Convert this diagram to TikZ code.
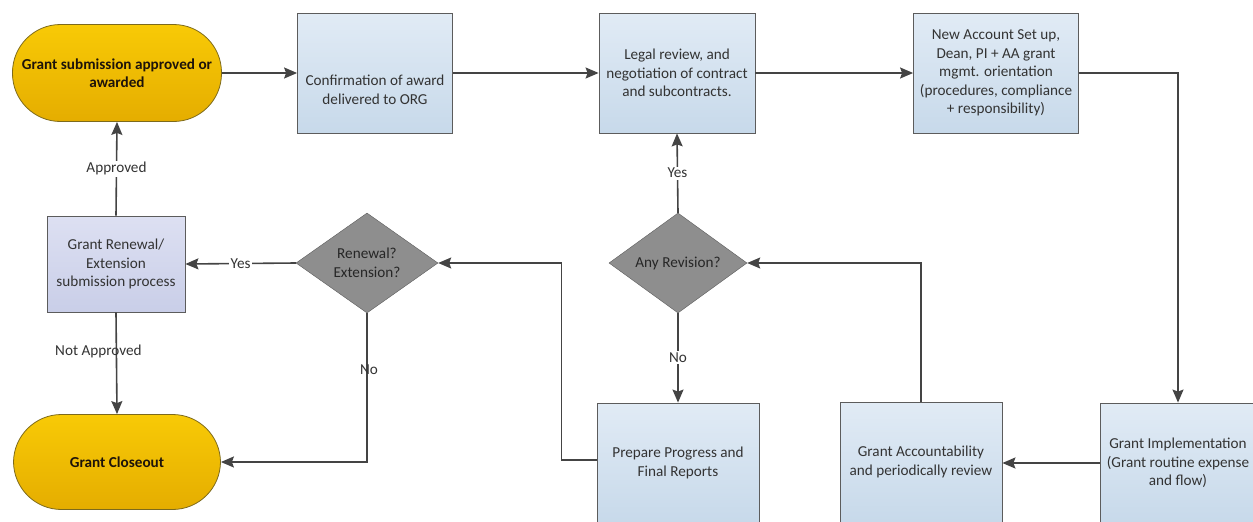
\documentclass[tikz,border=0pt]{standalone}
\usepackage{fontspec}
\setmainfont{Carlito}
\usetikzlibrary{arrows.meta, shapes.geometric}
\definecolor{txtgray}{HTML}{333333}
\definecolor{linegray}{HTML}{444444}
\definecolor{boxline}{HTML}{5C5C5C}
\definecolor{boxtop}{HTML}{E1EBF5}
\definecolor{boxbot}{HTML}{C7D9EA}
\definecolor{renewtop}{HTML}{DDE0F2}
\definecolor{renewbot}{HTML}{C9CEE8}
\definecolor{termtop}{HTML}{F8CA06}
\definecolor{termbot}{HTML}{E5AD00}
\definecolor{termline}{HTML}{7D6A1C}
\definecolor{decfill}{HTML}{8E8E8E}

\begin{document}
\begin{tikzpicture}[
                x=1pt, y=-1pt,
                font=\fontsize{15.2}{18.5}\selectfont,
                terminal/.style = {rectangle, rounded corners=48pt, draw=termline, thick,
                  top color=termtop, bottom color=termbot, minimum width=209pt,
                  minimum height=97pt, align=center, text=black!85!brown},
                process/.style = {rectangle, draw=boxline, thick, top color=boxtop,
                  bottom color=boxbot, minimum width=155pt, minimum height=120pt,
                  align=center, inner sep=2pt, text=txtgray},
                decision/.style = {diamond, draw=boxline, fill=decfill, aspect=1.4,
                  inner sep=0pt, minimum width=142pt, minimum height=100pt,
                  align=center, text=black!85},
                arrow/.style = {draw=linegray, line width=1.6pt,
                  -{Stealth[length=13pt, width=11pt, inset=2pt]}},
                tag/.style = {fill=white, inner sep=1.5pt, text=txtgray},
                plaintag/.style = {inner sep=1pt, text=txtgray}
              ]
              \useasboundingbox (0,0) rectangle (1253,522);
              % Top row
              \node[terminal] (awarded) at (117,73) {\textbf{Grant submission approved or}\\\textbf{awarded}};
              \node[process, label={[yshift=-17pt, align=center, text=txtgray]center:Confirmation of award\\delivered to ORG}] (confirm) at (375,73) {};
              \node[process, minimum width=156pt] (legal) at (677,73) {Legal review, and\\negotiation of contract\\and subcontracts.};
              \node[process, minimum width=165pt] (setup) at (996,73) {New Account Set up,\\Dean, PI + AA grant\\mgmt. orientation\\(procedures, compliance\\+ responsibility)};
              % Decisions
              \node[decision] (renew) at (367,263) {Renewal?\\Extension?};
              \node[decision, minimum width=138pt] (revision) at (678,263) {Any Revision?};
              \node[process, top color=renewtop, bottom color=renewbot, minimum width=138pt,
                minimum height=96pt] (renewal) at (116,264) {Grant Renewal/\\Extension\\submission process};
              % Bottom row
              \node[terminal, minimum width=207pt, minimum height=95pt] (closeout) at (117,462) {\textbf{Grant Closeout}};
              \node[process, minimum width=162pt] (reports) at (678,463) {Prepare Progress and\\Final Reports};
              \node[process, minimum width=162pt] (account) at (921,462) {Grant Accountability\\and periodically review};
              \node[process] (implement) at (1178,463) {Grant Implementation\\(Grant routine expense\\and flow)};
              % Connectors
              \draw[arrow] (awarded.east) -- (confirm.west);
              \draw[arrow] (confirm.east) -- (legal.west);
              \draw[arrow] (legal.east) -- (setup.west);
              \draw[arrow] (setup.east) -| (implement.north);
              \draw[arrow] (implement.west) -- (implement.west -| account.east);
              \draw[arrow] (account.north) |- (revision.east);
              \draw[arrow] (revision.north) -- node[tag] {Yes} (legal.south);
              \draw[arrow] (revision.south) -- node[tag] {No} (reports.north);
              \draw[arrow] ([yshift=3pt]reports.west) -- ++(-35,0) |- (renew.east);
              \draw[arrow] (renew.west) -- node[tag] {Yes} (renewal.east);
              \draw[arrow] (renewal.north) -- node[tag] {Approved} (awarded.south);
              \draw[arrow] (renewal.south) -- node[plaintag, pos=0.38, xshift=-18pt] {Not Approved} (closeout.north);
              \draw[arrow] (renew.south) |- node[plaintag, pos=0.19, xshift=2pt] {No} (closeout.east);
            \end{tikzpicture}
\end{document}
